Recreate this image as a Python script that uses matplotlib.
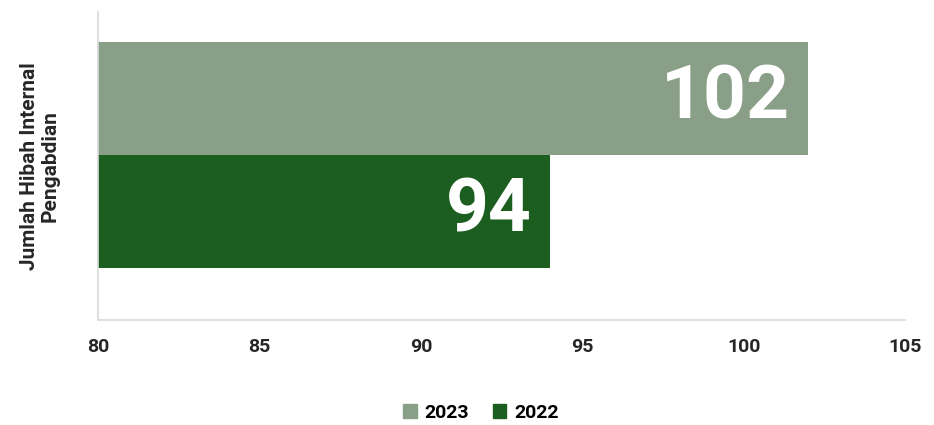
import matplotlib.pyplot as plt

# data
years = ['2023', '2022']
values = [102, 94]
colors = ['#8a9f88', '#1b5e20']
xticks = [80, 85, 90, 95, 100, 105]

plt.rcParams['font.family'] = ['Roboto', 'DejaVu Sans']

fig = plt.figure(figsize=(9.34, 4.25), dpi=100)
ax = fig.add_axes([0.105, 0.247, 0.864, 0.725])

ypos = [0.5, -0.5]
bars = ax.barh(ypos, [v - 80 for v in values], left=80, height=1.0, color=colors)

for y, v in zip(ypos, values):
    ax.text(v - 0.55, y, str(v), ha='right', va='center', color='white',
            fontsize=54, fontweight='bold')

ax.set_xlim(80, 105)
ax.set_ylim(-1.46, 1.27)
ax.set_xticks(xticks)
ax.set_xticklabels([str(t) for t in xticks], fontsize=14, fontweight='bold', color='#262626')
ax.set_yticks([])
ax.tick_params(axis='x', length=0, pad=13)

for s in ['top', 'right']:
    ax.spines[s].set_visible(False)
for s in ['left', 'bottom']:
    ax.spines[s].set_color('#d9d9d9')
    ax.spines[s].set_linewidth(1.2)

ax.set_ylabel('Jumlah Hibah Internal\nPengabdian', fontsize=15, fontweight='bold',
              color='#262626', labelpad=28, linespacing=1.1)

handles = [plt.Rectangle((0, 0), 1, 1, color=c) for c in colors]
fig.legend(handles, years, loc='center', bbox_to_anchor=(0.515, 0.028), ncol=2,
           frameon=False, prop={'weight': 'bold', 'size': 14},
           handlelength=0.7, handleheight=0.7, handletextpad=0.4, columnspacing=1.2)

fig.savefig('out.png', dpi=100)
